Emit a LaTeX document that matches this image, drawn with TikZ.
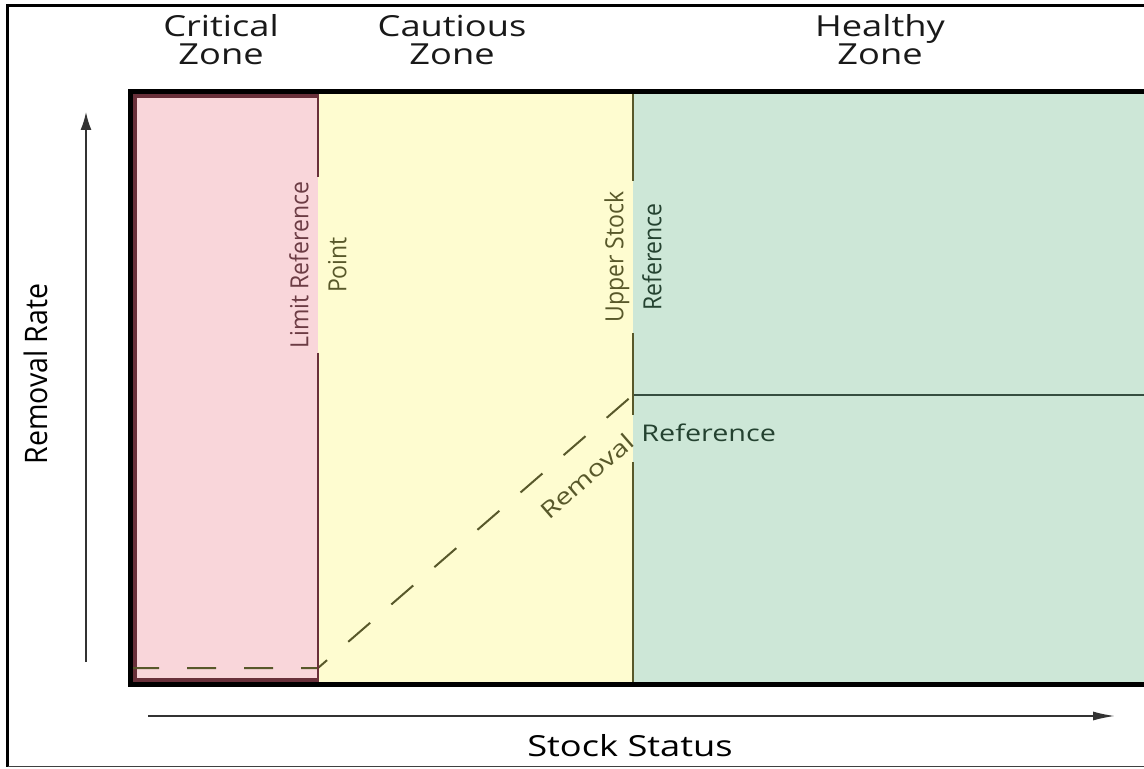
\documentclass[tikz,border=0pt]{standalone}
\usepackage{fontspec}
\setmainfont{Open Sans}
\newfontfamily\widefont[FakeStretch=1.25]{Open Sans}
\newfontfamily\condfont[FakeStretch=0.92]{Open Sans}
\usetikzlibrary{arrows.meta, positioning, calc}
\definecolor{ZonePink}{RGB}{249,214,218}
\definecolor{ZoneYellow}{RGB}{254,252,208}
\definecolor{ZoneGreen}{RGB}{205,231,215}
\definecolor{DarkRose}{RGB}{105,48,58}
\definecolor{Olive}{RGB}{88,88,42}
\definecolor{DarkGreen}{RGB}{36,66,48}
\def\xleft{130}
\def\xlim{318}
\def\xupp{633}
\def\xright{1144}
\def\ytop{92}
\def\ybot{684}

\begin{document}
\begin{tikzpicture}[x=0.5pt, y=-0.5pt,
    zonetitle/.style={align=center, text=black!90, font=\widefont\fontsize{14.5}{14}\selectfont},
    reflabel/.style={rotate=90, align=center, font=\condfont\fontsize{12.5}{19}\selectfont},
    boundary/.style={line width=1pt},
    axis/.style={black!80, line width=0.8pt}]

\useasboundingbox (0,0) rectangle (1144,769);

% outer frame
\draw[line width=1.5pt] (\xright,5.5) -- (7.5,5.5) -- (7.5,766.5);
\draw[black!75, line width=0.75pt] (7.5,766.5) -- (\xright,766.5);

% zones
\foreach \xa/\xb/\c in {\xleft/\xlim/ZonePink, \xlim/\xupp/ZoneYellow, \xupp/\xright/ZoneGreen}{%
    \fill[\c] (\xa,\ytop) rectangle (\xb,\ybot);
}
\node[zonetitle] (crit) at (221,40) {Critical\\Zone};
\node[zonetitle] (caut) at (452,40) {Cautious\\Zone};
\node[zonetitle] (heal) at (880,40) {Healthy\\Zone};

% shadow inside the critical zone
\draw[DarkRose, line width=2.5pt] (\xlim,{\ytop+4}) -- ({\xleft+4},{\ytop+4}) -- ({\xleft+4},{\ybot-4}) -- (\xlim,{\ybot-4});

% removal reference (dashed)
\coordinate (rr-start) at (\xleft,668);
\coordinate (rr-foot) at (\xlim,668);
\coordinate (rr-knee) at (\xupp,395);
\draw[Olive, line width=1pt, dash pattern=on 14.5pt off 14pt] (rr-start) -- (rr-foot) -- (rr-knee);
\draw[DarkGreen!80!gray, line width=1pt] (rr-knee) -- (\xright,395);

% reference points
\node[reflabel, inner xsep=2pt] (lrp) at (\xlim,265)
    {\color{DarkRose!85!gray}Limit Reference\\\color{Olive}Point};
\draw[DarkRose, boundary] (\xlim,\ytop) -- (lrp.east);
\draw[DarkRose, boundary] (lrp.west) -- (\xlim,\ybot);

\node[reflabel, inner xsep=5pt] (usr) at (\xupp,257)
    {\color{Olive}Upper Stock\\\color{DarkGreen}Reference};
\coordinate (gap-top) at (\xupp,415);
\coordinate (gap-bot) at (\xupp,462);
\draw[Olive, boundary] (\xupp,\ytop) -- (usr.east);
\draw[Olive, boundary] (usr.west) -- (gap-top);
\draw[Olive, boundary] (gap-bot) -- (\xupp,\ybot);

\node[rotate=41, inner sep=0pt, text=Olive, font=\widefont\fontsize{11.5}{13}\selectfont] (rem) at (587,476) {Removal};
\node[anchor=west, inner sep=0pt, text=DarkGreen, font=\widefont\fontsize{11.5}{13}\selectfont] (remref) at (641,433) {Reference};

% plot border
\draw[line width=2.5pt] (\xright,\ytop) -- (\xleft,\ytop) -- (\xleft,\ybot) -- (\xright,\ybot);

% axes
\coordinate (y0) at (86,662);
\coordinate (y1) at (86,112);
\draw[axis, -{Latex[length=9pt, width=5.5pt]}] (y0) -- (y1);
\node[rotate=90, font=\condfont\fontsize{15.5}{18}\selectfont] (ylbl) at (36,374) {Removal Rate};

\coordinate (x0) at (148,716);
\coordinate (x1) at (1115,716);
\draw[axis, -{Latex[length=11pt, width=4.5pt]}] (x0) -- (x1);
\node[font=\widefont\fontsize{14.5}{16}\selectfont] (xlbl) at (630,746) {Stock Status};

\end{tikzpicture}
\end{document}
